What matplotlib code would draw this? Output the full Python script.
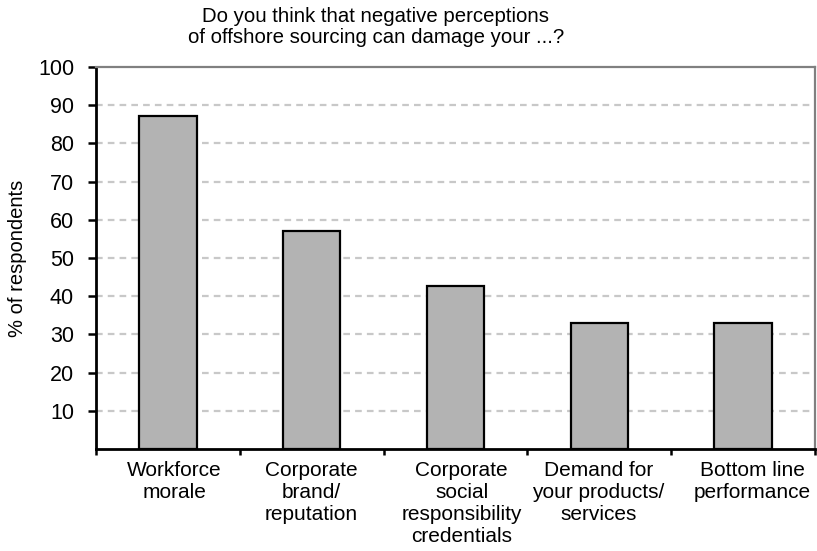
import matplotlib
matplotlib.use("Agg")
import matplotlib.pyplot as plt
from matplotlib.ticker import FixedLocator

plt.rcParams['font.family'] = ['Liberation Sans', 'DejaVu Sans']

categories = ["Workforce\nmorale", "Corporate\nbrand/\nreputation",
              "Corporate\nsocial\nresponsibility\ncredentials",
              "Demand for\nyour products/\nservices", "Bottom line\nperformance"]
values = [87.2, 57.1, 42.8, 33.1, 33.1]
y_ticks = [10, 20, 30, 40, 50, 60, 70, 80, 90, 100]
title = "Do you think that negative perceptions\nof offshore sourcing can damage your ...?"

# horizontal nudge (in points) of each category label
label_nudge = [4.5, -0.5, 4.5, -0.5, 6.5]

W, H = 817, 551
fig = plt.figure(figsize=(W / 100, H / 100), dpi=100)
ax = fig.add_axes([96 / W, (H - 449) / H, (815 - 96) / W, (449 - 67) / H])

x = list(range(len(values)))
ax.bar(x, values, width=0.4, color="#b3b3b3", edgecolor="black", linewidth=1.6, zorder=3)

ax.set_xlim(-0.5, len(values) - 0.5)
ax.set_ylim(0, 100)
ax.set_yticks(y_ticks)
ax.set_yticklabels([str(t) for t in y_ticks], fontsize=15.5)
for t in y_ticks[:-1]:
    ax.axhline(t, color="#c8c8c8", linewidth=1.6, linestyle=(0, (3.0, 2.3)), zorder=1)

# category boundaries as ticks, names written under the bar centres
ax.xaxis.set_major_locator(FixedLocator([i - 0.5 for i in range(len(values) + 1)]))
ax.set_xticklabels([])
for xi, name, dx in zip(x, categories, label_nudge):
    ax.annotate(name, xy=(xi, 0), xycoords=("data", "axes fraction"),
                xytext=(dx, -8.5), textcoords="offset points",
                ha="center", va="top", fontsize=15, linespacing=1.2,
                annotation_clip=False)
ax.tick_params(axis="x", which="major", length=4, width=1.8, direction="out", color="black")
ax.tick_params(axis="y", length=6, width=1.8, direction="out", pad=9.8)

ax.spines["left"].set_linewidth(2)
ax.spines["bottom"].set_linewidth(2)
ax.spines["top"].set_color("#808080")
ax.spines["top"].set_linewidth(1.6)
ax.spines["right"].set_color("#808080")
ax.spines["right"].set_linewidth(1.6)

ax.set_ylabel("% of respondents", fontsize=14.5, labelpad=8)

fig.text(376 / W, 1 - 7 / H, title, ha="center", va="top", fontsize=14.7, linespacing=1.12)

fig.savefig("out.png", dpi=100)
